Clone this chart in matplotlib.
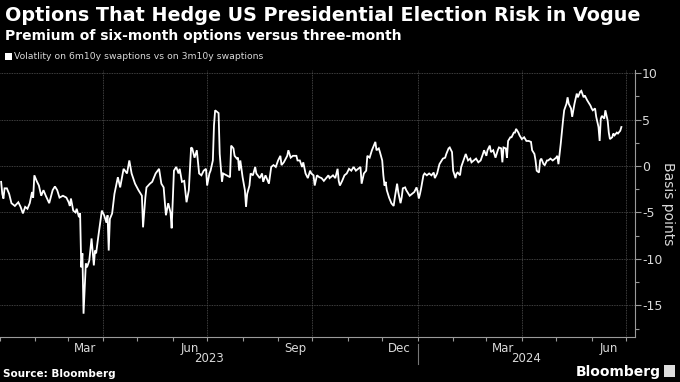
import matplotlib
matplotlib.use("Agg")
import matplotlib.pyplot as plt
import matplotlib.dates as mdates
import pandas as pd
import numpy as np

title = "Options That Hedge US Presidential Election Risk in Vogue"
subtitle = "Premium of six-month options versus three-month"
legend_label = "Volatlity on 6m10y swaptions vs on 3m10y swaptions"
source = "Source: Bloomberg"
ylabel = "Basis points"

dates = [
    "2023-01-02", "2023-01-03", "2023-01-04", "2023-01-05", "2023-01-07", "2023-01-09",
    "2023-01-11", "2023-01-14", "2023-01-17", "2023-01-19", "2023-01-21", "2023-01-23",
    "2023-01-25", "2023-01-27", "2023-01-29", "2023-01-30", "2023-01-31", "2023-02-02",
    "2023-02-04", "2023-02-06", "2023-02-08", "2023-02-10", "2023-02-13", "2023-02-16",
    "2023-02-18", "2023-02-20", "2023-02-22", "2023-02-25", "2023-02-28", "2023-03-02",
    "2023-03-03", "2023-03-04", "2023-03-06", "2023-03-08", "2023-03-09", "2023-03-11",
    "2023-03-12", "2023-03-13", "2023-03-14", "2023-03-15", "2023-03-17", "2023-03-18",
    "2023-03-20", "2023-03-22", "2023-03-24", "2023-03-25", "2023-03-26", "2023-03-28",
    "2023-03-31", "2023-04-02", "2023-04-04", "2023-04-05", "2023-04-06", "2023-04-07",
    "2023-04-09", "2023-04-11", "2023-04-14", "2023-04-16", "2023-04-19", "2023-04-22",
    "2023-04-24", "2023-04-26", "2023-04-29", "2023-05-02", "2023-05-05", "2023-05-06",
    "2023-05-08", "2023-05-09", "2023-05-12", "2023-05-14", "2023-05-17", "2023-05-20",
    "2023-05-22", "2023-05-24", "2023-05-26", "2023-05-28", "2023-05-30", "2023-05-31",
    "2023-06-02", "2023-06-04", "2023-06-06", "2023-06-07", "2023-06-09", "2023-06-11",
    "2023-06-13", "2023-06-15", "2023-06-17", "2023-06-18", "2023-06-20", "2023-06-22",
    "2023-06-24", "2023-06-26", "2023-06-28", "2023-06-30", "2023-07-01", "2023-07-03",
    "2023-07-04", "2023-07-06", "2023-07-07", "2023-07-08", "2023-07-10", "2023-07-11",
    "2023-07-12", "2023-07-14", "2023-07-15", "2023-07-18", "2023-07-21", "2023-07-22",
    "2023-07-24", "2023-07-25", "2023-07-27", "2023-07-28", "2023-07-29", "2023-07-30",
    "2023-08-01", "2023-08-03", "2023-08-04", "2023-08-05", "2023-08-07", "2023-08-08",
    "2023-08-10", "2023-08-12", "2023-08-13", "2023-08-16", "2023-08-18", "2023-08-19",
    "2023-08-21", "2023-08-22", "2023-08-24", "2023-08-26", "2023-08-28", "2023-08-30",
    "2023-09-01", "2023-09-03", "2023-09-04", "2023-09-06", "2023-09-09", "2023-09-10",
    "2023-09-12", "2023-09-14", "2023-09-17", "2023-09-18", "2023-09-20", "2023-09-22",
    "2023-09-23", "2023-09-25", "2023-09-27", "2023-09-29", "2023-09-30", "2023-10-02",
    "2023-10-03", "2023-10-05", "2023-10-07", "2023-10-09", "2023-10-11", "2023-10-13",
    "2023-10-15", "2023-10-16", "2023-10-19", "2023-10-21", "2023-10-23", "2023-10-24",
    "2023-10-25", "2023-10-27", "2023-10-29", "2023-10-31", "2023-11-02", "2023-11-04",
    "2023-11-06", "2023-11-08", "2023-11-10", "2023-11-12", "2023-11-13", "2023-11-15",
    "2023-11-17", "2023-11-18", "2023-11-20", "2023-11-22", "2023-11-23", "2023-11-25",
    "2023-11-26", "2023-11-28", "2023-11-29", "2023-12-01", "2023-12-02", "2023-12-03",
    "2023-12-04", "2023-12-05", "2023-12-07", "2023-12-09", "2023-12-11", "2023-12-12",
    "2023-12-14", "2023-12-15", "2023-12-17", "2023-12-18", "2023-12-19", "2023-12-21",
    "2023-12-22", "2023-12-24", "2023-12-25", "2023-12-27", "2023-12-29", "2023-12-31",
    "2024-01-01", "2024-01-02", "2024-01-03", "2024-01-04", "2024-01-06", "2024-01-07",
    "2024-01-09", "2024-01-11", "2024-01-13", "2024-01-15", "2024-01-16", "2024-01-18",
    "2024-01-20", "2024-01-23", "2024-01-25", "2024-01-26", "2024-01-28", "2024-01-29",
    "2024-01-31", "2024-02-01", "2024-02-03", "2024-02-04", "2024-02-05", "2024-02-07",
    "2024-02-08", "2024-02-10", "2024-02-12", "2024-02-14", "2024-02-16", "2024-02-17",
    "2024-02-19", "2024-02-21", "2024-02-23", "2024-02-25", "2024-02-27", "2024-02-28",
    "2024-03-01", "2024-03-02", "2024-03-04", "2024-03-05", "2024-03-07", "2024-03-08",
    "2024-03-09", "2024-03-11", "2024-03-12", "2024-03-14", "2024-03-15", "2024-03-16",
    "2024-03-18", "2024-03-19", "2024-03-20", "2024-03-22", "2024-03-23", "2024-03-25",
    "2024-03-26", "2024-03-27", "2024-03-29", "2024-03-30", "2024-04-01", "2024-04-03",
    "2024-04-05", "2024-04-07", "2024-04-09", "2024-04-10", "2024-04-12", "2024-04-13",
    "2024-04-14", "2024-04-16", "2024-04-17", "2024-04-18", "2024-04-20", "2024-04-21",
    "2024-04-23", "2024-04-24", "2024-04-26", "2024-04-28", "2024-05-01", "2024-05-02",
    "2024-05-03", "2024-05-05", "2024-05-07", "2024-05-08", "2024-05-10", "2024-05-11",
    "2024-05-12", "2024-05-14", "2024-05-15", "2024-05-16", "2024-05-17", "2024-05-19",
    "2024-05-20", "2024-05-22", "2024-05-23", "2024-05-25", "2024-05-26", "2024-05-28",
    "2024-05-29", "2024-05-31", "2024-06-01", "2024-06-02", "2024-06-04", "2024-06-05",
    "2024-06-07", "2024-06-08", "2024-06-09", "2024-06-10", "2024-06-12", "2024-06-13",
    "2024-06-15", "2024-06-16", "2024-06-17", "2024-06-19", "2024-06-20", "2024-06-21",
    "2024-06-23", "2024-06-24", "2024-06-26", "2024-06-27",
]

values = [
    -1.7, -3.0, -3.5, -2.4, -2.4, -3.0,
    -4.0, -4.3, -3.9, -4.4, -5.1, -4.4,
    -4.6, -4.0, -2.8, -3.4, -1.0, -1.6,
    -2.1, -3.2, -2.6, -3.2, -4.0, -2.6,
    -2.2, -2.6, -3.4, -3.2, -3.4, -3.9,
    -4.3, -3.5, -4.8, -5.0, -4.6, -5.5,
    -5.1, -10.9, -9.4, -15.9, -10.5, -10.9,
    -10.2, -7.8, -10.7, -9.1, -9.4, -7.5,
    -4.8, -5.3, -6.1, -5.3, -9.1, -5.7,
    -5.1, -3.0, -1.2, -2.3, -0.3, -0.8,
    0.6, -0.8, -1.9, -2.6, -3.2, -6.6,
    -3.4, -2.3, -1.9, -1.7, -0.8, -0.3,
    -1.9, -2.3, -5.3, -4.0, -5.0, -6.7,
    -0.5, -0.1, -0.8, -0.3, -1.7, -1.6,
    -3.9, -2.6, 2.0, 1.9, 0.9, 1.7,
    -0.8, -1.0, -0.5, -0.3, -2.1, -0.8,
    -0.5, 0.6, 4.4, 6.0, 5.8, 5.7,
    1.3, -1.7, -0.8, -1.0, -1.2, 2.2,
    1.9, 1.1, 0.8, 0.9, -0.5, 0.6,
    -1.2, -2.6, -4.4, -3.0, -2.1, -0.8,
    -1.0, -0.1, -0.8, -1.3, -0.8, -1.7,
    -1.0, -1.3, -1.9, -0.1, 0.1, -0.1,
    0.6, 1.1, 0.1, 0.4, 1.1, 1.7,
    0.9, 1.1, 1.1, 0.6, 0.6, -0.1,
    0.4, -0.8, -1.3, -0.5, -0.8, -1.0,
    -2.1, -1.0, -1.2, -1.3, -1.6, -1.3,
    -1.0, -1.3, -1.0, -1.3, -0.3, -1.6,
    -2.1, -1.6, -1.0, -0.8, -0.3, -0.5,
    -0.1, -0.5, -0.3, -0.1, -1.9, -0.8,
    -0.5, 1.1, 0.9, 1.7, 2.0, 2.6,
    1.7, 1.9, 1.5, 0.6, -1.0, -2.1,
    -1.7, -2.6, -3.4, -4.0, -4.3, -3.4,
    -1.9, -2.8, -4.0, -3.4, -2.4, -2.3,
    -2.6, -3.0, -3.2, -3.0, -2.8, -2.3,
    -2.8, -3.5, -3.0, -2.4, -1.0, -0.8,
    -1.0, -0.8, -1.0, -0.7, -1.3, -0.8,
    0.2, 0.8, 0.9, 1.3, 1.9, 2.0,
    1.5, -0.5, -1.3, -0.8, -0.7, -1.0,
    -0.1, 0.6, 1.3, 0.6, 0.8, 0.4,
    0.6, 0.8, 0.4, 0.6, 1.3, 1.7,
    1.1, 1.7, 2.2, 1.5, 1.7, 1.3,
    0.9, 1.7, 2.0, 1.9, 0.4, 2.0,
    1.9, 0.9, 2.7, 3.1, 3.1, 3.6,
    3.6, 4.0, 3.6, 3.3, 2.9, 3.1,
    2.7, 2.7, 2.6, 1.7, 1.3, 0.6,
    -0.5, -0.7, 0.6, 0.8, 0.2, 0.1,
    0.6, 0.6, 0.8, 0.6, 0.9, 1.1,
    0.2, 2.4, 4.9, 6.0, 6.7, 7.4,
    6.7, 6.2, 5.3, 6.0, 6.7, 7.8,
    7.4, 8.0, 8.1, 7.4, 7.6, 7.1,
    6.9, 6.5, 6.2, 6.0, 6.2, 5.3,
    4.2, 2.7, 5.1, 5.4, 5.1, 6.0,
    4.9, 3.6, 2.9, 3.1, 3.5, 3.3,
    3.6, 3.5, 3.8, 4.2,
]

quarter_starts = ["2023-04-01", "2023-07-01", "2023-10-01", "2024-01-01", "2024-04-01", "2024-07-01"]
month_labels = ["Mar", "Jun", "Sep", "Dec", "Mar", "Jun"]
month_label_dates = ["2023-03-16", "2023-06-16", "2023-09-16", "2023-12-16", "2024-03-16", "2024-06-16"]
years = ["2023", "2024"]
yticks = [-15, -10, -5, 0, 5, 10]

plt.rcParams["axes.unicode_minus"] = False
plt.rcParams["font.family"] = ["DejaVu Sans"]

BG = "black"
GRID = "#555555"
TXT = "#d9d9d9"

fig = plt.figure(figsize=(6.8, 3.82), dpi=100, facecolor=BG)
ax = fig.add_axes([0.0, 0.118, 0.934, 0.699])
ax.set_facecolor(BG)

x = pd.to_datetime(dates)
ax.plot(x, values, color="white", lw=1.3, solid_joinstyle="miter", zorder=3)

xmin = pd.Timestamp("2023-01-01")
xmax = pd.Timestamp("2024-07-09")
ax.set_xlim(xmin, xmax)
ax.set_ylim(-18.4, 10.35)

# grid
for q in pd.to_datetime(quarter_starts):
    ax.axvline(q, color=GRID, lw=0.6, ls=(0, (1, 1)), zorder=1)
for yv in yticks:
    ax.axhline(yv, color=GRID, lw=0.6, ls=(0, (1, 1)), zorder=1)

# spines
for s in ["top", "left"]:
    ax.spines[s].set_visible(False)
for s in ["bottom", "right"]:
    ax.spines[s].set_color("#9a9a9a")
    ax.spines[s].set_linewidth(0.8)

ax.yaxis.tick_right()
ax.set_yticks(yticks)
ax.set_yticklabels([str(v) for v in yticks])
ax.yaxis.set_minor_locator(matplotlib.ticker.MultipleLocator(2.5))
ax.tick_params(axis="y", which="major", colors="#9a9a9a", labelcolor=TXT, length=4,
               width=0.8, labelsize=9, pad=1)
ax.tick_params(axis="y", which="minor", colors="#9a9a9a", length=3, width=0.8)

ax.xaxis.set_major_locator(mdates.MonthLocator())
ax.xaxis.set_major_formatter(matplotlib.ticker.NullFormatter())
ax.tick_params(axis="x", which="major", colors="#9a9a9a", length=3, width=0.8)

trans = ax.get_xaxis_transform()
for d, lab in zip(pd.to_datetime(month_label_dates), month_labels):
    ax.text(d, -0.02, lab, transform=trans, ha="center", va="top", color=TXT, fontsize=8.5)
# years
y2023_c = pd.Timestamp("2023-01-01") + (pd.Timestamp("2024-01-01") - pd.Timestamp("2023-01-01")) / 2
y2024_c = pd.Timestamp("2024-01-01") + (xmax - pd.Timestamp("2024-01-01")) / 2
for c, lab in zip([y2023_c, y2024_c], years):
    ax.text(c, -0.058, lab, transform=trans, ha="center", va="top", color=TXT, fontsize=8.5)
ax.plot([pd.Timestamp("2024-01-01")] * 2, [-0.026, -0.1], transform=trans, color="#777777",
        lw=0.8, clip_on=False)

ax.text(1.052, 0.5, ylabel, transform=ax.transAxes, rotation=270, ha="center", va="center",
        color=TXT, fontsize=10)

fig.text(0.007, 0.985, title, ha="left", va="top", color="white", fontsize=13.8, fontweight="bold")
fig.text(0.007, 0.925, subtitle, ha="left", va="top", color="white", fontsize=10, fontweight="bold")
fig.patches.append(matplotlib.patches.Rectangle((0.008, 0.842), 0.0095, 0.018, transform=fig.transFigure,
                                                 facecolor="white", edgecolor="none"))
fig.text(0.021, 0.851, legend_label, ha="left", va="center", color=TXT, fontsize=6.7)
fig.text(0.005, 0.008, source, ha="left", va="bottom", color="white", fontsize=7.5, fontweight="bold")
fig.text(0.972, 0.008, "Bloomberg", ha="right", va="bottom", color="white", fontsize=10, fontweight="bold")
fig.patches.append(matplotlib.patches.Rectangle((0.977, 0.014), 0.016, 0.03, transform=fig.transFigure,
                                                 facecolor="#dddddd", edgecolor="none"))

fig.savefig("out.png", dpi=100, facecolor=BG)
